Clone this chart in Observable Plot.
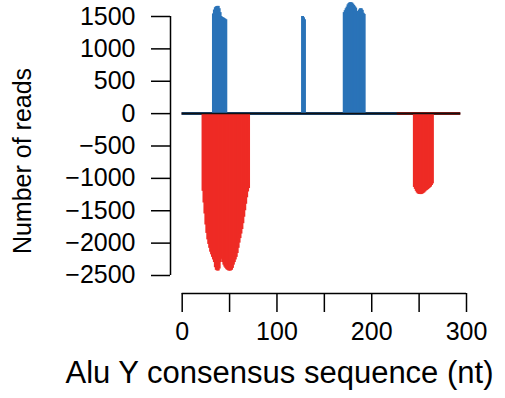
<!DOCTYPE html>
<html>
<head>
<meta charset="utf-8">
<script src="https://cdn.jsdelivr.net/npm/d3@7"></script>
<script src="https://cdn.jsdelivr.net/npm/@observablehq/plot@0.6"></script>
<style>
  html, body { margin: 0; padding: 0; background: #fff; }
  #chart svg { display: block; }
</style>
</head>
<body>
<div id="chart"></div>
<script>
// ---- Data ----
// Sense reads (blue, positive), three peaks: start position + per-nt counts
const blueStarts = [33, 127, 171];
const bluePeakA = [1540, 1600, 1636, 1650, 1656, 1656, 1620, 1560, 1500, 1485, 1480, 1470, 1460, 1450];
const bluePeakB = [1500, 1480, 1450];
const bluePeakC = [1560, 1590, 1620, 1645, 1680, 1700, 1713, 1713, 1707, 1690, 1671, 1650, 1630, 1580, 1530, 1560, 1600, 1620, 1618, 1595, 1550, 1532];

// Antisense reads (red, negative), two peaks
const redStarts = [22, 245];
const redPeakA = [-1200, -1380, -1550, -1720, -1850, -1950, -2020, -2080, -2140, -2180, -2220, -2260, -2300, -2380, -2420, -2430, -2430, -2400, -2300, -2230, -2250, -2300, -2340, -2370, -2390, -2410, -2420, -2430, -2430, -2430, -2420, -2390, -2340, -2300, -2260, -2220, -2160, -2080, -2000, -1930, -1860, -1790, -1700, -1600, -1500, -1400, -1300, -1210, -1157];
const redPeakB = [-1140, -1170, -1200, -1225, -1240, -1248, -1250, -1250, -1245, -1235, -1225, -1210, -1195, -1185, -1173, -1160, -1148, -1135, -1110, -1085];

// Extent of the zero baselines of each series (nt)
const blueLastPos = 227;
const redLastPos = 294;

const xTicks = [0, 50, 100, 150, 200, 250, 300];
const xTickLabels = ["0", "", "100", "", "200", "", "300"];
const yTicks = [1500, 1000, 500, 0, -500, -1000, -1500, -2000, -2500];

const xTitle = "Alu Y consensus sequence (nt)";
const yTitle = "Number of reads";

// ---- Build rows ----
function rows(starts, peaks) {
  const out = [];
  peaks.forEach((vals, k) => vals.forEach((v, i) => out.push({x: starts[k] + i, y: v})));
  return out;
}
const blueRows = rows(blueStarts, [bluePeakA, bluePeakB, bluePeakC]);
const redRows = rows(redStarts, [redPeakA, redPeakB]);

const BLUE = "#2a73b8";
const RED = "#ee2b25";
const FONT = "'Liberation Sans', Arial, Helvetica, sans-serif";

const xDom = [-12.34, 300];
const yDom = [-2778, 1500];

const chart = Plot.plot({
  width: 505,
  height: 398,
  marginLeft: 170,
  marginRight: 39,
  marginTop: 16,
  marginBottom: 105,
  style: {fontFamily: FONT, fontSize: "25px", color: "#000", background: "#fff"},
  x: {domain: xDom, axis: null},
  y: {domain: yDom, axis: null},
  marks: [
    // zero baselines of each series
    Plot.ruleY([0], {x1: 0, x2: redLastPos, stroke: "#8a1c18", strokeWidth: 3}),
    Plot.ruleY([0], {x1: 0, x2: blueLastPos, stroke: "#1d4a78", strokeWidth: 3}),
    // read counts per nucleotide
    Plot.ruleX(blueRows, {x: "x", y1: 0, y2: "y", stroke: BLUE, strokeWidth: 3}),
    Plot.ruleX(redRows, {x: "x", y1: 0, y2: "y", stroke: RED, strokeWidth: 3}),
    Plot.ruleY([0], {x1: 0, x2: redLastPos, stroke: "#111", strokeWidth: 1.5}),
    // y axis
    Plot.ruleX([xDom[0]], {y1: yTicks[yTicks.length - 1], y2: yTicks[0], stroke: "#000", strokeWidth: 1.5}),
    Plot.axisY({ticks: yTicks, tickSize: 19, tickPadding: 16, fontSize: 25, tickFormat: d => d < 0 ? "\u2212" + Math.abs(d) : String(d), label: null, strokeWidth: 1.5}),
    // x axis
    Plot.ruleY([yDom[0]], {x1: xTicks[0], x2: xTicks[xTicks.length - 1], stroke: "#000", strokeWidth: 1.5}),
    Plot.axisX({ticks: xTicks, tickSize: 19, tickPadding: 10, fontSize: 25, tickFormat: (d, i) => xTickLabels[xTicks.indexOf(d)], label: null, strokeWidth: 1.5}),
    // titles
    Plot.text([xTitle], {frameAnchor: "bottom", dx: -39, dy: 80, fontSize: 31, lineAnchor: "middle", fill: "#000"}),
    Plot.text([yTitle], {frameAnchor: "left", textAnchor: "middle", rotate: -90, dx: -148, dy: 6, fontSize: 25, lineAnchor: "middle", fill: "#000"})
  ]
});
document.getElementById("chart").appendChild(chart);
</script>
</body>
</html>
